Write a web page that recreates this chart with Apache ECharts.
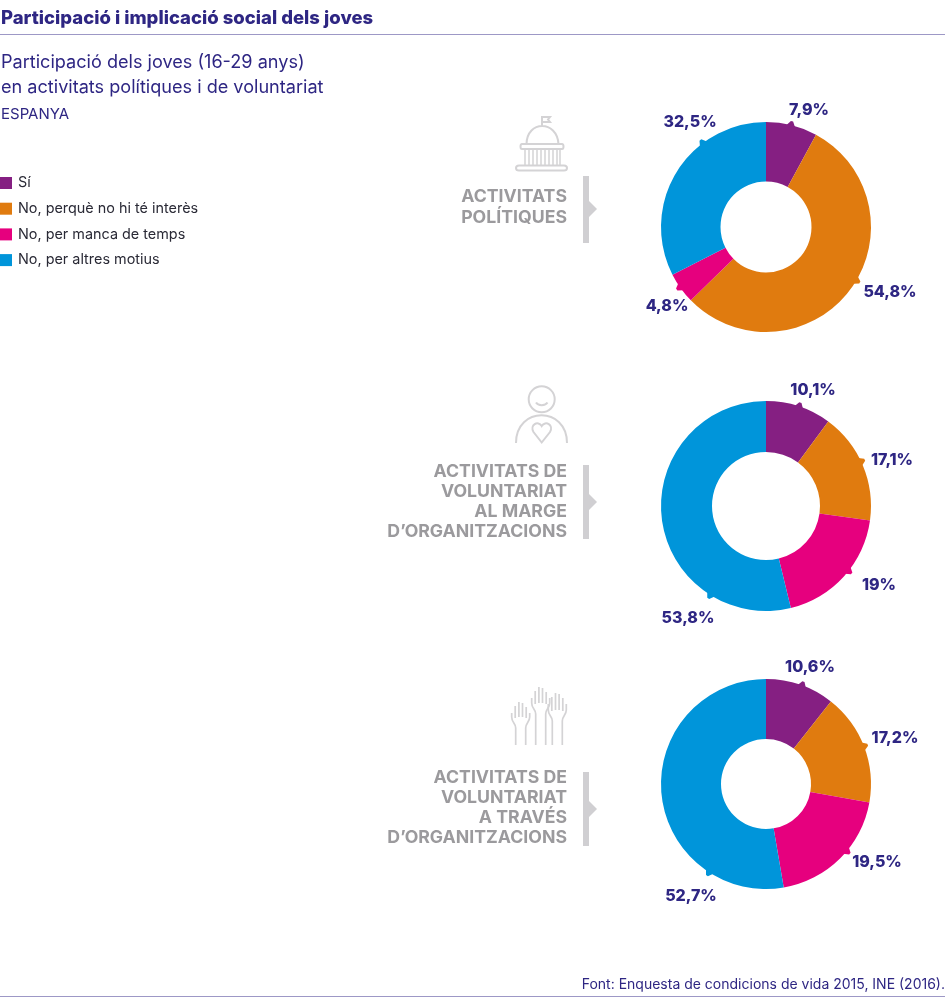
<!DOCTYPE html>
<html><head><meta charset="utf-8">
<style>html,body{margin:0;padding:0;background:#fff}#c{width:945px;height:999px}</style>
<script src="https://cdn.jsdelivr.net/npm/echarts@6/dist/echarts.min.js"></script>
</head><body><div id="c"></div>
<script>
const categories = ['Sí','No, perquè no hi té interès','No, per manca de temps','No, per altres motius'];
const politiques = [7.9,54.8,4.8,32.5];
const margeOrg = [10.1,17.1,19,53.8];
const atravesOrg = [10.6,17.2,19.5,52.7];
const colors = ['#851f82','#e07b0f','#e6007e','#0095da'];
const NAVY='#2e2683', GREY='#9b9a9d', ICON='#d4d3d5', BAR='#d0cfd2';
const FONT='Inter, Roboto, sans-serif';
const OUTER=105;

const pies = [
 {values:politiques, cy:227, inner:45.5,
  labels:[[809,110],[890,292],[667,306],[690,122]], nubs:[13.8,120.6,235,323]},
 {values:margeOrg,  cy:506, inner:54,
  labels:[[813,390],[892,460],[879,585],[688,618]], nubs:[18.4,64.9,128.2,212]},
 {values:atravesOrg,cy:784, inner:45,
  labels:[[810,667],[895,738],[877,862],[691,896]], nubs:[20.1,68.9,129.7,212.8]}
];
function pieSeries(p){
  return {type:'pie',center:[766,p.cy],radius:[p.inner,OUTER],startAngle:90,clockwise:true,silent:true,
    avoidLabelOverlap:false,animation:false,
    data:p.values.map((v,i)=>({value:v,name:categories[i],itemStyle:{color:colors[i]}})),
    labelLayout:q=>({dx:p.labels[q.dataIndex][0]-(q.labelRect.x+q.labelRect.width/2),
                     dy:p.labels[q.dataIndex][1]-(q.labelRect.y+q.labelRect.height/2)}),
    label:{show:true,position:'outside',formatter:o=>String(o.value).replace('.',',')+'%',color:NAVY,fontFamily:FONT,fontWeight:800,fontSize:16},
    labelLine:{show:false},
    emphasis:{disabled:true}};
}
function nubPolys(p){
  const pt=(deg,r)=>{const a=deg*Math.PI/180;return [766+r*Math.sin(a),p.cy-r*Math.cos(a)];};
  return p.nubs.map((d,i)=>({type:'polygon',silent:true,shape:{points:[pt(d-2.4,OUTER-1),pt(d-0.6,OUTER+4),pt(d+0.6,OUTER+4),pt(d+2.4,OUTER-1)]},style:{fill:colors[i]}}));
}
function txt(x,y,text,size,weight,color,align){
  return {type:'text',x,y,silent:true,style:{text,fontFamily:FONT,fontSize:size,fontWeight:weight,fill:color,align:align||'left',verticalAlign:'middle'}};
}
function stroke(d,w){return {type:'path',silent:true,shape:{pathData:d},style:{fill:'none',stroke:ICON,lineWidth:w||2}};}
function hand(cx,top,wrist,bottom){
  const a=cx-5, b=cx+5;
  return stroke(`M${a} ${bottom}V${wrist}C${a} ${wrist-5} ${cx-9} ${wrist-5} ${cx-9} ${wrist-11}V${top+11}`+
    `M${b} ${bottom}V${wrist}C${b} ${wrist-5} ${cx+9} ${wrist-6} ${cx+9} ${wrist-11}V${top+11}`+
    `M${cx-5.5} ${wrist-10}V${top+4}M${cx-1.8} ${wrist-11}V${top}M${cx+1.8} ${wrist-11}V${top+1}M${cx+5.5} ${wrist-10}V${top+5}`,1.7);
}
const GL=17.7;
const graphics=[
 {type:'rect',shape:{x:0,y:34,width:945,height:1},style:{fill:'#9d98c6'},silent:true},
 {type:'rect',shape:{x:0,y:996,width:945,height:1},style:{fill:'#9d98c6'},silent:true},
 txt(1,18,'Participació i implicació social dels joves',18.5,800,NAVY),
 txt(1,63,'Participació dels joves (16-29 anys)',18.1,400,NAVY),
 txt(1,88,'en activitats polítiques i de voluntariat',18.1,400,NAVY),
 txt(1,114,'ESPANYA',15,400,NAVY),
 txt(567,197,'ACTIVITATS',GL,700,GREY,'right'),
 txt(567,217.5,'POLÍTIQUES',GL,700,GREY,'right'),
 txt(567,472,'ACTIVITATS DE',GL,700,GREY,'right'),
 txt(567,492,'VOLUNTARIAT',GL,700,GREY,'right'),
 txt(567,512,'AL MARGE',GL,700,GREY,'right'),
 txt(567,532,'D’ORGANITZACIONS',GL,700,GREY,'right'),
 txt(567,778,'ACTIVITATS DE',GL,700,GREY,'right'),
 txt(567,798,'VOLUNTARIAT',GL,700,GREY,'right'),
 txt(567,818,'A TRAVÉS',GL,700,GREY,'right'),
 txt(567,838,'D’ORGANITZACIONS',GL,700,GREY,'right'),
 txt(945,985,'Font: Enquesta de condicions de vida 2015, INE (2016).',14,400,NAVY,'right'),
 ...[[176,243,209],[465,539,502],[772,846,809]].map(([a,b,m])=>({type:'polygon',silent:true,shape:{points:[[583,a],[589,a],[589,m-8],[597,m],[589,m+8],[589,b],[583,b]]},style:{fill:BAR}})),
 {type:'circle',silent:true,shape:{cx:541.7,cy:399.3,r:13},style:{fill:'none',stroke:ICON,lineWidth:2}},
 ...pies.flatMap(nubPolys),
];
const iconPaths=[
 stroke('M542 127V117H550L548 119.5L550 122H542M526.5 144C527 120 557 120 558.5 144',2),
 stroke('M522 144H562C564 144 564 149 562 149H522C520 149 520 144 522 144Z',2),
 stroke('M525 149V165M529 149V165M533 149V165M537 149V165M541 149V165M545 149V165M549 149V165M553 149V165M557 149V165M560 149V165',1.5),
 stroke('M519 165.5H564C568 165.5 568 170.5 564 170.5H519C515 170.5 515 165.5 519 165.5Z',2),
 stroke('M536 402.5C538 406 545.5 406 547.5 402.5',2),
 stroke('M516 443C516 406 567 406 567 443',2),
 stroke('M541.7 442.5L533.5 432C529.5 425 538 420 541.7 426C545.5 420 554 425 550 432Z',2),
 hand(520.7,702,728,745),
 hand(540.7,687,714,745),
 hand(557.3,693,721,745),
];
const chart=echarts.init(document.getElementById('c'),null,{renderer:'canvas'});
chart.setOption({
  animation:false,backgroundColor:'#fff',
  legend:{left:0,top:176,padding:0,orient:'vertical',align:'left',itemWidth:12,itemHeight:12,itemGap:11.7,icon:'rect',selectedMode:false,
    data:categories,textStyle:{fontFamily:FONT,fontSize:14.4,color:'#2a2a36',padding:[0,0,0,1]}},
  series:[...pies.map(pieSeries),{type:'custom',coordinateSystem:'none',silent:true,data:[0],
     renderItem:()=>({type:'group',children:iconPaths})}],
  graphic:graphics
});
</script></body></html>
